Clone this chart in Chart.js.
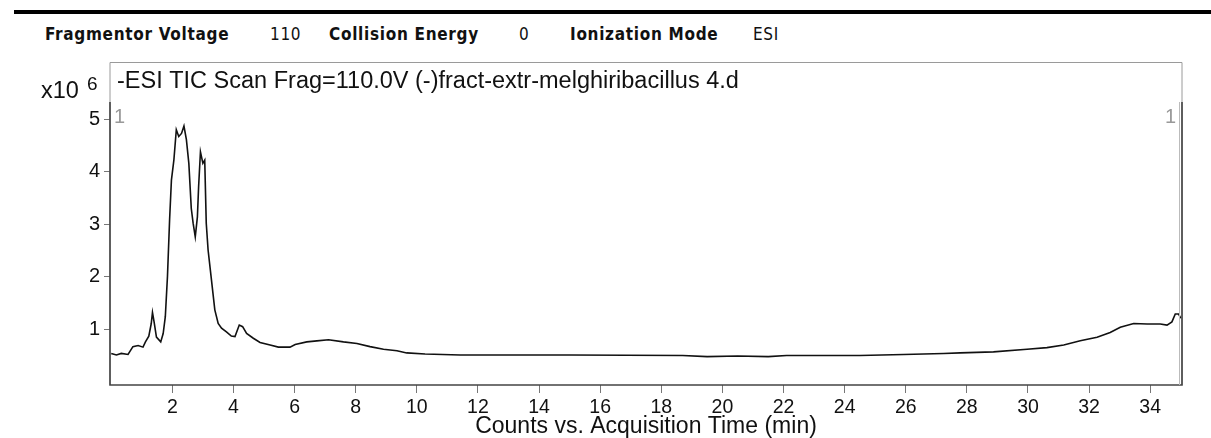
<!DOCTYPE html>
<html>
<head>
<meta charset="utf-8">
<script src="https://cdn.jsdelivr.net/npm/chart.js@4/dist/chart.umd.min.js"></script>
<style>
  body { margin: 0; background: #fff; }
  #wrap { position: relative; width: 1211px; height: 438px; }
  #topRule { position: absolute; left: 14px; top: 10px; width: 1197px; height: 4px; background: #000; }
  .hdr { position: absolute; top: 24px; font-family: "DejaVu Sans Condensed", "DejaVu Sans", sans-serif; font-size: 17px; letter-spacing: 0.7px; color: #111; white-space: nowrap; }
  .hdr.b { font-weight: bold; }
  canvas { position: absolute; left: 0; top: 0; }
</style>
</head>
<body>
<div id="wrap">
  <div id="topRule"></div>
  <span class="hdr b" style="left:45px">Fragmentor Voltage</span>
  <span class="hdr" style="left:270px">110</span>
  <span class="hdr b" style="left:329px">Collision Energy</span>
  <span class="hdr" style="left:519px">0</span>
  <span class="hdr b" style="left:570px">Ionization Mode</span>
  <span class="hdr" style="left:753px">ESI</span>
  <canvas id="tic" width="1211" height="438"></canvas>
</div>
<script>
// TIC trace, acquisition time (min) vs counts (x10^6)
const times = [0, 0.17, 0.33, 0.55, 0.71, 0.88, 1.04, 1.12, 1.23, 1.31, 1.35, 1.40, 1.48, 1.62, 1.70, 1.77,
  1.84, 1.91, 1.97, 2.05, 2.13, 2.21, 2.30, 2.38, 2.46, 2.54, 2.62, 2.68, 2.75, 2.82, 2.86, 2.92, 3.00, 3.06,
  3.11, 3.17, 3.28, 3.39, 3.50, 3.61, 3.77, 3.93, 4.05, 4.19, 4.30, 4.43, 4.65, 4.87, 5.20, 5.47, 5.85, 6.02,
  6.40, 6.73, 7.11, 7.60, 8.04, 8.47, 8.91, 9.35, 9.67, 10.27, 11.42, 12.0, 15.0, 18.7, 19.5, 20.5, 21.5, 22.1,
  24.5, 25.93, 27.24, 27.78, 28.87, 29.97, 30.62, 31.17, 31.71, 32.26, 32.69, 33.02, 33.46, 33.9, 34.33, 34.55,
  34.71, 34.82, 34.93, 35.0];
const counts = [0.54, 0.51, 0.54, 0.52, 0.67, 0.69, 0.66, 0.76, 0.87, 1.11, 1.32, 1.15, 0.85, 0.76, 0.92, 1.24,
  2.0, 3.08, 3.84, 4.22, 4.80, 4.67, 4.73, 4.87, 4.61, 4.16, 3.30, 3.02, 2.76, 3.14, 3.72, 4.38, 4.16, 4.22,
  3.02, 2.51, 1.94, 1.37, 1.11, 1.02, 0.95, 0.87, 0.86, 1.08, 1.05, 0.92, 0.83, 0.75, 0.70, 0.66, 0.66, 0.71,
  0.76, 0.78, 0.80, 0.76, 0.73, 0.67, 0.62, 0.59, 0.55, 0.53, 0.51, 0.51, 0.51, 0.50, 0.48, 0.49, 0.48, 0.50,
  0.50, 0.52, 0.54, 0.55, 0.57, 0.62, 0.65, 0.70, 0.78, 0.85, 0.94, 1.04, 1.11, 1.10, 1.10, 1.08,
  1.14, 1.29, 1.29, 1.21];
const xTicks = [2, 4, 6, 8, 10, 12, 14, 16, 18, 20, 22, 24, 26, 28, 30, 32, 34];
const yTicks = [1, 2, 3, 4, 5];

const traceTitle = "-ESI TIC Scan Frag=110.0V (-)fract-extr-melghiribacillus 4.d";
const sans = '"Liberation Sans", Arial, sans-serif';

const frame = {
  id: 'frame',
  afterDraw(chart) {
    const {ctx, chartArea: a} = chart;
    ctx.save();
    // outer panel
    ctx.strokeStyle = '#9a9a9a';
    ctx.lineWidth = 1;
    ctx.beginPath();
    ctx.moveTo(a.left, a.bottom); ctx.lineTo(a.left, a.top + 0.5);
    ctx.lineTo(a.right, a.top + 0.5); ctx.lineTo(a.right, a.bottom);
    ctx.stroke();
    ctx.strokeStyle = '#444';
    ctx.lineWidth = 1.6;
    ctx.beginPath();
    ctx.moveTo(a.left, 102); ctx.lineTo(a.left, a.bottom); ctx.lineTo(a.right, a.bottom); ctx.lineTo(a.right, 102);
    ctx.stroke();
    ctx.strokeStyle = '#bbb';
    ctx.lineWidth = 1;
    ctx.beginPath();
    ctx.moveTo(a.right - 2.5, 102); ctx.lineTo(a.right - 2.5, a.bottom);
    ctx.stroke();

    ctx.fillStyle = '#111';
    ctx.textBaseline = 'alphabetic';
    ctx.font = '23.5px ' + sans;
    ctx.fillText(traceTitle, 117, 88);
    ctx.fillText('x10', 41, 98);
    ctx.font = '19px ' + sans;
    ctx.fillText('6', 87, 90);

    ctx.fillStyle = '#999';
    ctx.font = '20px ' + sans;
    ctx.fillText('1', 114, 123);
    ctx.textAlign = 'right';
    ctx.fillText('1', a.right - 6, 123);
    ctx.restore();
  }
};

new Chart(document.getElementById('tic'), {
  type: 'line',
  data: {
    datasets: [{
      data: times.map((t, i) => ({x: t, y: counts[i]})),
      borderColor: '#111',
      borderWidth: 1.6,
      pointRadius: 0,
      tension: 0,
      fill: false
    }]
  },
  options: {
    responsive: false,
    animation: false,
    layout: {padding: {top: 62, right: 29, left: 0, bottom: 0}},
    plugins: {legend: {display: false}, tooltip: {enabled: false}},
    scales: {
      x: {
        type: 'linear',
        min: -0.04,
        max: 35.04,
        afterBuildTicks: s => { s.ticks = xTicks.map(v => ({value: v})); },
        afterFit: s => { s.height = 53; },
        grid: {drawOnChartArea: false, drawTicks: true, tickLength: 8, color: '#777'},
        border: {display: false},
        ticks: {color: '#111', padding: 3, maxRotation: 0, autoSkip: false,
                font: {family: sans, size: 19.5}},
        title: {display: true, text: 'Counts vs. Acquisition Time (min)', color: '#111',
                padding: {top: 0, bottom: 0},
                font: {family: sans, size: 23, lineHeight: 1.0}}
      },
      y: {
        min: -0.061,
        max: 6.09,
        afterBuildTicks: s => { s.ticks = yTicks.map(v => ({value: v})); },
        afterFit: s => { s.width = 110; },
        grid: {drawOnChartArea: false, drawTicks: true, tickLength: 6, color: '#777'},
        border: {display: false},
        ticks: {color: '#111', padding: 4, font: {family: sans, size: 20}}
      }
    }
  },
  plugins: [frame]
});
</script>
</body>
</html>
